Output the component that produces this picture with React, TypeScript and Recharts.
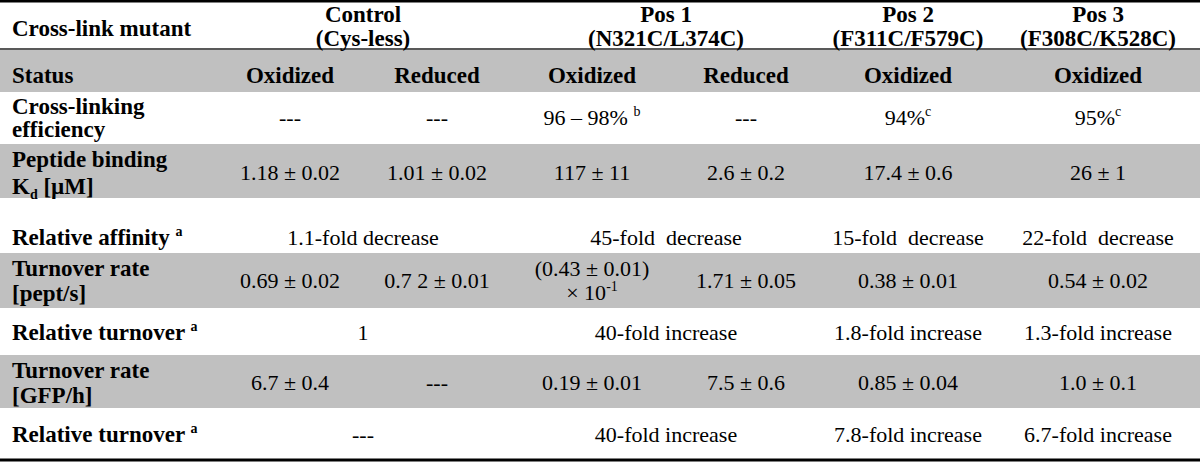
import React from "react";
import {
  ComposedChart,
  XAxis,
  YAxis,
  Scatter,
  ReferenceArea,
  ReferenceLine,
} from "recharts";

// ---- table content ----
// ^{..} = superscript, _{..} = subscript
const rowLabels: string[][] = [
  ["Cross-link mutant"],
  ["Status"],
  ["Cross-linking", "efficiency"],
  ["Peptide binding", "K_{d} [µM]"],
  ["Relative affinity ^{a}"],
  ["Turnover rate", "[pept/s]"],
  ["Relative turnover ^{a}"],
  ["Turnover rate", "[GFP/h]"],
  ["Relative turnover ^{a}"],
];

const mutants: string[][] = [
  ["Control", "(Cys-less)"],
  ["Pos 1", "(N321C/L374C)"],
  ["Pos 2", "(F311C/F579C)"],
  ["Pos 3", "(F308C/K528C)"],
];

const status = ["Oxidized", "Reduced", "Oxidized", "Reduced", "Oxidized", "Oxidized"];
const efficiency = ["---", "---", "96 – 98% ^{b}", "---", "94%^{c}", "95%^{c}"];
const kd = ["1.18 ± 0.02", "1.01 ± 0.02", "117 ± 11", "2.6 ± 0.2", "17.4 ± 0.6", "26 ± 1"];
const affinity = ["1.1-fold decrease", "45-fold  decrease", "15-fold  decrease", "22-fold  decrease"];
const turnoverPept = [
  "0.69 ± 0.02",
  "0.7 2 ± 0.01",
  "(0.43 ± 0.01)|× 10^{-1}",
  "1.71 ± 0.05",
  "0.38 ± 0.01",
  "0.54 ± 0.02",
];
const relTurnover = ["1", "40-fold increase", "1.8-fold increase", "1.3-fold increase"];
const turnoverGfp = ["6.7 ± 0.4", "---", "0.19 ± 0.01", "7.5 ± 0.6", "0.85 ± 0.04", "1.0 ± 0.1"];
const relTurnoverGfp = ["---", "40-fold increase", "7.8-fold increase", "6.7-fold increase"];

// ---- layout (px units of the 1200x462 canvas) ----
const W = 1200;
const H = 462;
const labelX = 12;
const subCenters = [290, 437, 592, 746, 908, 1098];
const groupCenters = [363, 666, 908, 1098];
const rowCenters = [26.5, 75.5, 118, 173, 237.5, 281, 332.5, 382.5, 434.5];
const rowGaps = [22, 0, 23, 27, 0, 25, 0, 25, 0];
const grayBands = [
  [50, 92],
  [144, 198],
  [253, 308],
  [355, 408],
];

const FONT = "'Liberation Serif', 'Times New Roman', Times, serif";

type Cell = {
  x: number;
  y: number;
  lines: string[];
  gap: number;
  bold: boolean;
  anchor: "start" | "middle";
};

const cells: Cell[] = [];

rowLabels.forEach((lines, r) => {
  cells.push({ x: labelX, y: rowCenters[r] + (r === 0 ? 1.5 : 0), lines, gap: rowGaps[r], bold: true, anchor: "start" });
});

mutants.forEach((lines, i) => {
  cells.push({ x: groupCenters[i], y: rowCenters[0], lines, gap: 24, bold: true, anchor: "middle" });
});

status.forEach((s, i) => {
  cells.push({ x: subCenters[i], y: rowCenters[1], lines: [s], gap: 0, bold: true, anchor: "middle" });
});

const subRows: [string[], number][] = [
  [efficiency, 2],
  [kd, 3],
  [turnoverPept, 5],
  [turnoverGfp, 7],
];
subRows.forEach(([vals, r]) => {
  vals.forEach((v, i) => {
    cells.push({ x: subCenters[i], y: rowCenters[r], lines: v.split("|"), gap: 24, bold: false, anchor: "middle" });
  });
});

const groupRows: [string[], number][] = [
  [affinity, 4],
  [relTurnover, 6],
  [relTurnoverGfp, 8],
];
groupRows.forEach(([vals, r]) => {
  vals.forEach((v, i) => {
    cells.push({ x: groupCenters[i], y: rowCenters[r], lines: [v], gap: 0, bold: false, anchor: "middle" });
  });
});

// split "text ^{sup} _{sub}" into tspans
function renderRich(line: string) {
  const parts = line.split(/(\^\{[^}]*\}|_\{[^}]*\})/).filter((p) => p !== "");
  let shift = 0;
  return parts.map((p, i) => {
    if (p.startsWith("^{")) {
      const dy = -9 - shift;
      shift = -9;
      return (
        <tspan key={i} dy={dy} fontSize={14}>
          {p.slice(2, -1)}
        </tspan>
      );
    }
    if (p.startsWith("_{")) {
      const dy = 5 - shift;
      shift = 5;
      return (
        <tspan key={i} dy={dy} fontSize={14}>
          {p.slice(2, -1)}
        </tspan>
      );
    }
    const dy = -shift;
    shift = 0;
    return (
      <tspan key={i} dy={dy}>
        {p}
      </tspan>
    );
  });
}

const CellText = (props: any) => {
  const { cx, cy, payload } = props;
  const c = payload as Cell;
  const size = c.bold ? 23 : 22;
  const n = c.lines.length;
  const first = cy - ((n - 1) * c.gap) / 2 + size * 0.33;
  return (
    <text
      textAnchor={c.anchor}
      fontSize={size}
      fontWeight={c.bold ? "bold" : "normal"}
      fill="#000"
      style={{ whiteSpace: "pre", fontFamily: FONT }}
    >
      {c.lines.map((l, i) => (
        <tspan key={i} x={cx} y={first + i * c.gap}>
          {renderRich(l)}
        </tspan>
      ))}
    </text>
  );
};

export default function App() {
  return (
    <div style={{ position: "absolute", left: 0, top: 0, width: W, height: H, background: "#fff" }}>
      <ComposedChart width={W} height={H} margin={{ top: 0, right: 0, bottom: 0, left: 0 }}>
        <XAxis type="number" dataKey="x" domain={[0, W]} allowDataOverflow hide />
        <YAxis type="number" dataKey="y" domain={[0, H]} allowDataOverflow reversed hide />
        {grayBands.map(([y1, y2], i) => (
          <ReferenceArea
            key={i}
            x1={0}
            x2={W}
            y1={y1}
            y2={y2}
            fill="#c0c0c0"
            fillOpacity={1}
            stroke="none"
          />
        ))}
        <ReferenceLine y={1.3} stroke="#000" strokeWidth={2.5} />
        <ReferenceLine y={49} stroke="#222" strokeWidth={1.5} />
        <ReferenceLine y={460} stroke="#000" strokeWidth={3} />
        <Scatter data={cells} shape={CellText} isAnimationActive={false} />
      </ComposedChart>
    </div>
  );
}
